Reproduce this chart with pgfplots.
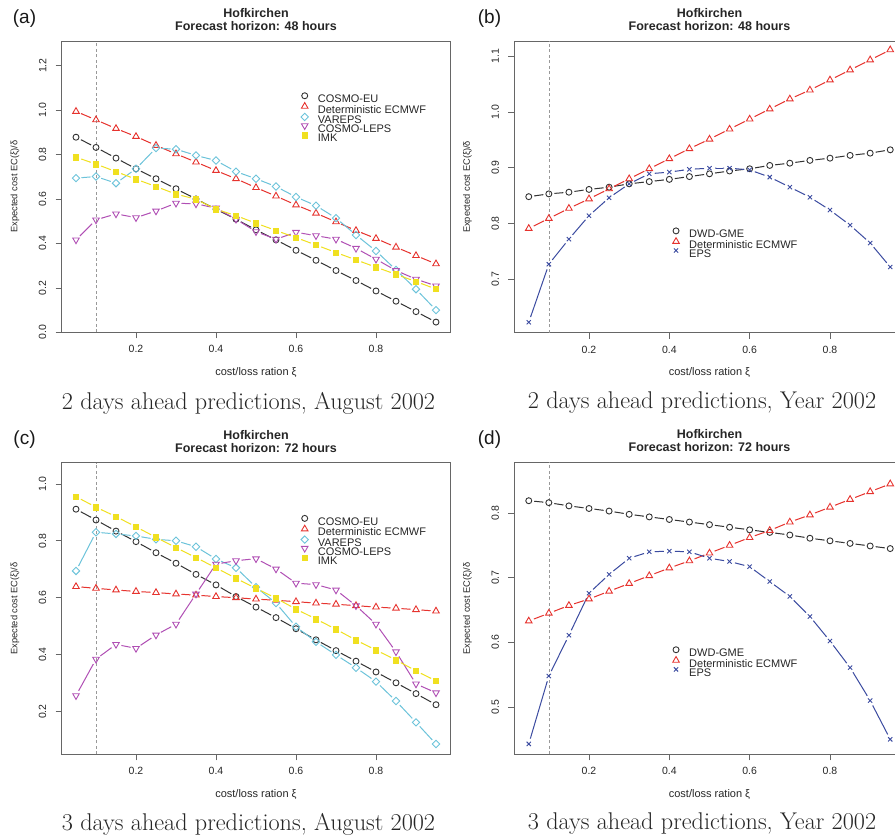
\documentclass[border=0pt]{standalone}
\usepackage{fontspec}
\usepackage{pgfplots}
\usepackage{pgfplotstable}
\usetikzlibrary{arrows.meta}
\pgfplotsset{compat=1.18}
\newfontfamily\arial{Liberation Sans}
\definecolor{cblk}{HTML}{333333}
\definecolor{cred}{HTML}{E6332E}
\definecolor{ccyan}{HTML}{6CC3DA}
\definecolor{cpur}{HTML}{B04FB4}
\definecolor{cyel}{HTML}{F0E020}
\definecolor{cblu}{HTML}{3B4BA0}
\definecolor{cbox}{HTML}{666666}

\pgfplotstableread{
x eu ec va le imk
0.05 0.878 0.994 0.694 0.416 0.788
0.10 0.832 0.956 0.701 0.506 0.757
0.15 0.784 0.917 0.671 0.533 0.723
0.20 0.736 0.881 0.736 0.516 0.689
0.25 0.691 0.841 0.829 0.546 0.656
0.30 0.646 0.803 0.824 0.581 0.622
0.35 0.600 0.766 0.796 0.578 0.599
0.40 0.554 0.728 0.773 0.559 0.554
0.45 0.509 0.691 0.723 0.509 0.525
0.50 0.461 0.651 0.691 0.453 0.491
0.55 0.416 0.613 0.656 0.419 0.458
0.60 0.369 0.573 0.609 0.450 0.426
0.65 0.324 0.536 0.570 0.435 0.393
0.70 0.278 0.497 0.514 0.419 0.359
0.75 0.233 0.458 0.438 0.378 0.326
0.80 0.186 0.422 0.366 0.329 0.293
0.85 0.140 0.383 0.281 0.278 0.261
0.90 0.093 0.345 0.194 0.239 0.228
0.95 0.046 0.308 0.100 0.209 0.195
}\tabA

\pgfplotstableread{
x gme ec eps
0.05 0.848 0.791 0.623
0.10 0.853 0.809 0.727
0.15 0.856 0.827 0.772
0.20 0.861 0.844 0.814
0.25 0.865 0.862 0.846
0.30 0.871 0.880 0.871
0.35 0.875 0.898 0.889
0.40 0.879 0.916 0.892
0.45 0.884 0.934 0.897
0.50 0.889 0.951 0.899
0.55 0.894 0.969 0.899
0.60 0.898 0.987 0.896
0.65 0.904 1.005 0.883
0.70 0.908 1.023 0.865
0.75 0.913 1.039 0.847
0.80 0.917 1.057 0.824
0.85 0.922 1.075 0.797
0.90 0.926 1.093 0.765
0.95 0.932 1.111 0.722
}\tabB

\pgfplotstableread{
x eu ec va le imk
0.05 0.911 0.639 0.694 0.256 0.955
0.10 0.873 0.633 0.830 0.384 0.918
0.15 0.834 0.627 0.824 0.436 0.885
0.20 0.797 0.622 0.817 0.422 0.849
0.25 0.758 0.618 0.805 0.469 0.812
0.30 0.721 0.613 0.800 0.507 0.776
0.35 0.682 0.609 0.779 0.613 0.741
0.40 0.645 0.604 0.736 0.718 0.705
0.45 0.604 0.600 0.705 0.730 0.668
0.50 0.567 0.595 0.637 0.737 0.633
0.55 0.530 0.591 0.581 0.701 0.598
0.60 0.491 0.586 0.498 0.651 0.560
0.65 0.452 0.581 0.445 0.646 0.525
0.70 0.414 0.577 0.399 0.627 0.489
0.75 0.377 0.572 0.354 0.572 0.451
0.80 0.339 0.567 0.305 0.507 0.416
0.85 0.301 0.563 0.237 0.410 0.381
0.90 0.263 0.558 0.162 0.297 0.343
0.95 0.224 0.553 0.086 0.266 0.308
}\tabC

\pgfplotstableread{
x gme ec eps
0.05 0.819 0.633 0.443
0.10 0.816 0.645 0.548
0.15 0.811 0.657 0.611
0.20 0.807 0.667 0.676
0.25 0.803 0.679 0.705
0.30 0.798 0.691 0.730
0.35 0.794 0.703 0.740
0.40 0.790 0.715 0.741
0.45 0.786 0.726 0.740
0.50 0.782 0.738 0.730
0.55 0.778 0.750 0.725
0.60 0.774 0.762 0.717
0.65 0.770 0.773 0.694
0.70 0.766 0.786 0.671
0.75 0.761 0.797 0.640
0.80 0.757 0.809 0.602
0.85 0.753 0.821 0.561
0.90 0.749 0.833 0.510
0.95 0.745 0.845 0.450
}\tabD

\pgfplotsset{
  filter discard warning=false,
  lbase/.style={no markers, line width=1pt, arrows={Butt Cap-Butt Cap}, shorten <=5.5pt, shorten >=5.5pt, forget plot},
  lblk/.style={lbase, draw=cblk},
  lred/.style={lbase, draw=cred},
  lcya/.style={lbase, draw=ccyan},
  lpur/.style={lbase, draw=cpur},
  lyel/.style={lbase, draw=cyel},
  lblu/.style={lbase, draw=cblu},
  mk/.style={only marks,
    legend image code/.code={\path (0pt,0pt) (8pt,0pt); \draw[##1] plot coordinates {(4pt,3.7pt)};}},
  mblk/.style={mk, color=cblk, mark=o, mark size=3pt, mark options={line width=0.9pt}},
  mred/.style={mk, color=cred, mark=triangle, mark size=3.8pt, mark options={line width=0.9pt}},
  mcya/.style={mk, color=ccyan, mark=square, mark size=2.6pt, mark options={rotate=45, line width=0.9pt}},
  mpur/.style={mk, color=cpur, mark=triangle, mark size=3.8pt, mark options={rotate=180, line width=0.9pt}},
  myel/.style={mk, color=cyel, mark=square*, mark size=2.7pt},
  mblu/.style={mk, color=cblu, mark=x, mark size=3pt, mark options={line width=0.9pt}},
  myax/.style={
    scale only axis, anchor=south west,
    axis line style={cbox, line width=0.7pt},
    tick align=outside, tick pos=left, major tick length=6pt,
    tick style={cbox, line width=0.6pt},
    xtick={0.2,0.4,0.6,0.8},
    xmin=0.014, xmax=0.986,
    /pgf/number format/fixed, /pgf/number format/fixed zerofill,
    /pgf/number format/precision=1, /pgf/number format/assume math mode=true,
    tick label style={font=\arial\fontsize{10.5}{12}\selectfont, text=black!85},
    xticklabel style={anchor=center, inner sep=0pt},
    yticklabel style={rotate=90, anchor=center, inner sep=0pt},
    xticklabel shift=11pt, yticklabel shift=13pt,
    xlabel={cost/loss ration ξ},
    ylabel={Expected cost EC(ξ)/δ},
    xlabel style={at={(axis description cs:0.5,-0.137)}, anchor=center, font=\arial\fontsize{11}{12}\selectfont, text=black!85},
    ylabel style={at={(axis description cs:-0.12,0.5)}, anchor=center, font=\arial\fontsize{9.3}{10}\selectfont, text=black!85},
    title style={at={(axis description cs:0.5,1.053)}, anchor=center, align=center, font=\arial\bfseries\fontsize{12.5}{13}\selectfont, text=black!85},
    legend style={draw=none, fill=none, anchor=north west, inner sep=0pt, row sep=-1.5pt,
      font=\arial\fontsize{11}{10}\selectfont, text=black!85,
      nodes={inner sep=0pt},
      /tikz/every odd column/.append style={column sep=9pt}},
    legend cell align=left,
  }
}

\newcommand{\series}[3]{%
  \foreach \i in {0,...,17}{%
    \pgfmathtruncatemacro{\j}{\i+1}%
    \edef\temp{\noexpand\addplot[l#3, restrict expr to domain={\noexpand\coordindex}{\i:\j}] table[x=x,y=#2]{\noexpand#1};}%
    \temp
  }%
  \addplot[m#3] table[x=x,y=#2]{#1};
}

\begin{document}
\begin{tikzpicture}
\useasboundingbox (0,0) rectangle (895pt,839pt);
\clip (0,0) rectangle (895pt,839pt);

% (a)
\begin{axis}[myax, at={(61.6pt,506.7pt)}, width=388.8pt, height=291.3pt,
  ymin=0, ymax=1.311, ytick={0,0.2,0.4,0.6,0.8,1.0,1.2},
  title={Hofkirchen\\Forecast horizon: 48 hours},
  legend style={at={(0.614,0.823)}}]
\addplot[forget plot, gray!80, line width=0.5pt, dash pattern=on 3pt off 2.5pt] coordinates {(0.1,0) (0.1,1.311)};
\series{\tabA}{eu}{blk}
\series{\tabA}{ec}{red}
\series{\tabA}{va}{cya}
\series{\tabA}{le}{pur}
\series{\tabA}{imk}{yel}
\legend{COSMO-EU, Deterministic ECMWF, VAREPS, COSMO-LEPS, IMK}
\end{axis}

% (b)
\begin{axis}[myax, at={(514.3pt,506.3pt)}, width=390.4pt, height=291.7pt,
  ymin=0.6043, ymax=1.1269, ytick={0.7,0.8,0.9,1.0,1.1},
  title={Hofkirchen\\Forecast horizon: 48 hours},
  legend style={at={(0.403,0.360)}}]
\addplot[forget plot, gray!80, line width=0.5pt, dash pattern=on 3pt off 2.5pt] coordinates {(0.1,0.6043) (0.1,1.1269)};
\series{\tabB}{gme}{blk}
\series{\tabB}{ec}{red}
\series{\tabB}{eps}{blu}
\legend{DWD-GME, Deterministic ECMWF, EPS}
\end{axis}

% (c)
\begin{axis}[myax, at={(61.6pt,84.7pt)}, width=388.8pt, height=291.6pt,
  ymin=0.0498, ymax=1.0743, ytick={0.2,0.4,0.6,0.8,1.0},
  title={Hofkirchen\\Forecast horizon: 72 hours},
  legend style={at={(0.614,0.820)}}]
\addplot[forget plot, gray!80, line width=0.5pt, dash pattern=on 3pt off 2.5pt] coordinates {(0.1,0.0498) (0.1,1.0743)};
\series{\tabC}{eu}{blk}
\series{\tabC}{ec}{red}
\series{\tabC}{va}{cya}
\series{\tabC}{le}{pur}
\series{\tabC}{imk}{yel}
\legend{COSMO-EU, Deterministic ECMWF, VAREPS, COSMO-LEPS, IMK}
\end{axis}

% (d)
\begin{axis}[myax, at={(514.3pt,84.7pt)}, width=390.4pt, height=292pt,
  ymin=0.4269, ymax=0.8784, ytick={0.5,0.6,0.7,0.8},
  title={Hofkirchen\\Forecast horizon: 72 hours},
  legend style={at={(0.403,0.369)}}]
\addplot[forget plot, gray!80, line width=0.5pt, dash pattern=on 3pt off 2.5pt] coordinates {(0.1,0.4269) (0.1,0.8784)};
\series{\tabD}{gme}{blk}
\series{\tabD}{ec}{red}
\series{\tabD}{eps}{blu}
\legend{DWD-GME, Deterministic ECMWF, EPS}
\end{axis}

\node[font=\arial\fontsize{19}{20}\selectfont, text=black!90] at (24.5pt,820.5pt) {(a)};
\node[font=\arial\fontsize{19}{20}\selectfont, text=black!90] at (489.5pt,820.5pt) {(b)};
\node[font=\arial\fontsize{19}{20}\selectfont, text=black!90] at (24.5pt,399.5pt) {(c)};
\node[font=\arial\fontsize{19}{20}\selectfont, text=black!90] at (489.5pt,399.5pt) {(d)};

\node[font=\fontsize{24.2}{27}\selectfont, text=black!85] at (248.5pt,436pt) {2 days ahead predictions, August 2002};
\node[font=\fontsize{24.2}{27}\selectfont, text=black!85] at (702pt,436pt) {2 days ahead predictions, Year 2002};
\node[font=\fontsize{24.2}{27}\selectfont, text=black!85] at (248.5pt,15pt) {3 days ahead predictions, August 2002};
\node[font=\fontsize{24.2}{27}\selectfont, text=black!85] at (702pt,15pt) {3 days ahead predictions, Year 2002};
\end{tikzpicture}
\end{document}
